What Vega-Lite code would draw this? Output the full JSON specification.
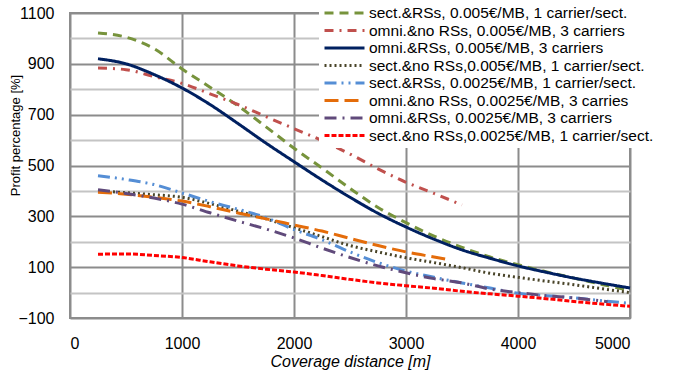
{
  "$schema": "https://vega.github.io/schema/vega-lite/v6.json",
  "width": 560,
  "height": 305,
  "autosize": {"type": "none"},
  "padding": {"left": 70, "top": 13, "right": 51, "bottom": 56},
  "background": "white",
  "config": {
    "font": "Liberation Sans",
    "view": {"stroke": "#8C8C8C", "strokeWidth": 2},
    "axis": {"labelFont": "Liberation Sans", "labelFontSize": 16, "labelColor": "#000", "ticks": false, "domain": false, "titleFont": "Liberation Sans", "titleColor": "#000", "titleFontWeight": "normal"},
    "legend": {"orient": "none", "legendX": 249, "legendY": -10, "fillColor": "white", "padding": 4, "rowPadding": 1.5, "clipHeight": 12, "labelFont": "Liberation Sans", "labelFontSize": 15.5, "labelColor": "#000", "labelOffset": 3, "labelLimit": 400, "symbolType": "stroke", "symbolSize": 1600, "symbolStrokeWidth": 3, "title": null}
  },
  "data": {"values": [
    {"s": "sect.&RSs, 0.005€/MB, 1 carrier/sect.", "x": 250, "y": 1021},
    {"s": "sect.&RSs, 0.005€/MB, 1 carrier/sect.", "x": 500, "y": 1005},
    {"s": "sect.&RSs, 0.005€/MB, 1 carrier/sect.", "x": 750, "y": 960},
    {"s": "sect.&RSs, 0.005€/MB, 1 carrier/sect.", "x": 1000, "y": 880},
    {"s": "sect.&RSs, 0.005€/MB, 1 carrier/sect.", "x": 1250, "y": 808},
    {"s": "sect.&RSs, 0.005€/MB, 1 carrier/sect.", "x": 1500, "y": 735},
    {"s": "sect.&RSs, 0.005€/MB, 1 carrier/sect.", "x": 1750, "y": 652},
    {"s": "sect.&RSs, 0.005€/MB, 1 carrier/sect.", "x": 2000, "y": 568},
    {"s": "sect.&RSs, 0.005€/MB, 1 carrier/sect.", "x": 2250, "y": 490},
    {"s": "sect.&RSs, 0.005€/MB, 1 carrier/sect.", "x": 2500, "y": 410},
    {"s": "sect.&RSs, 0.005€/MB, 1 carrier/sect.", "x": 2750, "y": 335},
    {"s": "sect.&RSs, 0.005€/MB, 1 carrier/sect.", "x": 3000, "y": 275},
    {"s": "sect.&RSs, 0.005€/MB, 1 carrier/sect.", "x": 3250, "y": 222},
    {"s": "sect.&RSs, 0.005€/MB, 1 carrier/sect.", "x": 3500, "y": 178},
    {"s": "sect.&RSs, 0.005€/MB, 1 carrier/sect.", "x": 3750, "y": 140},
    {"s": "sect.&RSs, 0.005€/MB, 1 carrier/sect.", "x": 4000, "y": 110},
    {"s": "sect.&RSs, 0.005€/MB, 1 carrier/sect.", "x": 4250, "y": 82},
    {"s": "sect.&RSs, 0.005€/MB, 1 carrier/sect.", "x": 4500, "y": 57},
    {"s": "sect.&RSs, 0.005€/MB, 1 carrier/sect.", "x": 4750, "y": 32},
    {"s": "sect.&RSs, 0.005€/MB, 1 carrier/sect.", "x": 5000, "y": 8},

    {"s": "omni.&no RSs, 0.005€/MB, 3 carriers", "x": 250, "y": 884},
    {"s": "omni.&no RSs, 0.005€/MB, 3 carriers", "x": 500, "y": 877},
    {"s": "omni.&no RSs, 0.005€/MB, 3 carriers", "x": 750, "y": 850},
    {"s": "omni.&no RSs, 0.005€/MB, 3 carriers", "x": 1000, "y": 823},
    {"s": "omni.&no RSs, 0.005€/MB, 3 carriers", "x": 1250, "y": 782},
    {"s": "omni.&no RSs, 0.005€/MB, 3 carriers", "x": 1500, "y": 740},
    {"s": "omni.&no RSs, 0.005€/MB, 3 carriers", "x": 1750, "y": 692},
    {"s": "omni.&no RSs, 0.005€/MB, 3 carriers", "x": 2000, "y": 645},
    {"s": "omni.&no RSs, 0.005€/MB, 3 carriers", "x": 2250, "y": 598},
    {"s": "omni.&no RSs, 0.005€/MB, 3 carriers", "x": 2500, "y": 545},
    {"s": "omni.&no RSs, 0.005€/MB, 3 carriers", "x": 2750, "y": 487},
    {"s": "omni.&no RSs, 0.005€/MB, 3 carriers", "x": 3000, "y": 434},
    {"s": "omni.&no RSs, 0.005€/MB, 3 carriers", "x": 3250, "y": 390},
    {"s": "omni.&no RSs, 0.005€/MB, 3 carriers", "x": 3500, "y": 345},

    {"s": "omni.&RSs, 0.005€/MB, 3 carriers", "x": 250, "y": 920},
    {"s": "omni.&RSs, 0.005€/MB, 3 carriers", "x": 500, "y": 900},
    {"s": "omni.&RSs, 0.005€/MB, 3 carriers", "x": 750, "y": 858},
    {"s": "omni.&RSs, 0.005€/MB, 3 carriers", "x": 1000, "y": 805},
    {"s": "omni.&RSs, 0.005€/MB, 3 carriers", "x": 1250, "y": 740},
    {"s": "omni.&RSs, 0.005€/MB, 3 carriers", "x": 1500, "y": 665},
    {"s": "omni.&RSs, 0.005€/MB, 3 carriers", "x": 1750, "y": 588},
    {"s": "omni.&RSs, 0.005€/MB, 3 carriers", "x": 2000, "y": 515},
    {"s": "omni.&RSs, 0.005€/MB, 3 carriers", "x": 2250, "y": 443},
    {"s": "omni.&RSs, 0.005€/MB, 3 carriers", "x": 2500, "y": 375},
    {"s": "omni.&RSs, 0.005€/MB, 3 carriers", "x": 2750, "y": 312},
    {"s": "omni.&RSs, 0.005€/MB, 3 carriers", "x": 3000, "y": 258},
    {"s": "omni.&RSs, 0.005€/MB, 3 carriers", "x": 3250, "y": 210},
    {"s": "omni.&RSs, 0.005€/MB, 3 carriers", "x": 3500, "y": 168},
    {"s": "omni.&RSs, 0.005€/MB, 3 carriers", "x": 3750, "y": 135},
    {"s": "omni.&RSs, 0.005€/MB, 3 carriers", "x": 4000, "y": 105},
    {"s": "omni.&RSs, 0.005€/MB, 3 carriers", "x": 4250, "y": 80},
    {"s": "omni.&RSs, 0.005€/MB, 3 carriers", "x": 4500, "y": 57},
    {"s": "omni.&RSs, 0.005€/MB, 3 carriers", "x": 4750, "y": 37},
    {"s": "omni.&RSs, 0.005€/MB, 3 carriers", "x": 5000, "y": 18},

    {"s": "sect.&no RSs,0.005€/MB, 1 carrier/sect.", "x": 250, "y": 400},
    {"s": "sect.&no RSs,0.005€/MB, 1 carrier/sect.", "x": 500, "y": 393},
    {"s": "sect.&no RSs,0.005€/MB, 1 carrier/sect.", "x": 750, "y": 385},
    {"s": "sect.&no RSs,0.005€/MB, 1 carrier/sect.", "x": 1000, "y": 375},
    {"s": "sect.&no RSs,0.005€/MB, 1 carrier/sect.", "x": 1250, "y": 350},
    {"s": "sect.&no RSs,0.005€/MB, 1 carrier/sect.", "x": 1500, "y": 320},
    {"s": "sect.&no RSs,0.005€/MB, 1 carrier/sect.", "x": 1750, "y": 290},
    {"s": "sect.&no RSs,0.005€/MB, 1 carrier/sect.", "x": 2000, "y": 255},
    {"s": "sect.&no RSs,0.005€/MB, 1 carrier/sect.", "x": 2250, "y": 220},
    {"s": "sect.&no RSs,0.005€/MB, 1 carrier/sect.", "x": 2500, "y": 185},
    {"s": "sect.&no RSs,0.005€/MB, 1 carrier/sect.", "x": 2750, "y": 160},
    {"s": "sect.&no RSs,0.005€/MB, 1 carrier/sect.", "x": 3000, "y": 137},
    {"s": "sect.&no RSs,0.005€/MB, 1 carrier/sect.", "x": 3250, "y": 118},
    {"s": "sect.&no RSs,0.005€/MB, 1 carrier/sect.", "x": 3500, "y": 98},
    {"s": "sect.&no RSs,0.005€/MB, 1 carrier/sect.", "x": 3750, "y": 76},
    {"s": "sect.&no RSs,0.005€/MB, 1 carrier/sect.", "x": 4000, "y": 60},
    {"s": "sect.&no RSs,0.005€/MB, 1 carrier/sect.", "x": 4250, "y": 45},
    {"s": "sect.&no RSs,0.005€/MB, 1 carrier/sect.", "x": 4500, "y": 31},
    {"s": "sect.&no RSs,0.005€/MB, 1 carrier/sect.", "x": 4750, "y": 15},
    {"s": "sect.&no RSs,0.005€/MB, 1 carrier/sect.", "x": 5000, "y": 0},

    {"s": "sect.&RSs, 0.0025€/MB, 1 carrier/sect.", "x": 250, "y": 460},
    {"s": "sect.&RSs, 0.0025€/MB, 1 carrier/sect.", "x": 500, "y": 445},
    {"s": "sect.&RSs, 0.0025€/MB, 1 carrier/sect.", "x": 750, "y": 425},
    {"s": "sect.&RSs, 0.0025€/MB, 1 carrier/sect.", "x": 1000, "y": 392},
    {"s": "sect.&RSs, 0.0025€/MB, 1 carrier/sect.", "x": 1250, "y": 358},
    {"s": "sect.&RSs, 0.0025€/MB, 1 carrier/sect.", "x": 1500, "y": 328},
    {"s": "sect.&RSs, 0.0025€/MB, 1 carrier/sect.", "x": 1750, "y": 295},
    {"s": "sect.&RSs, 0.0025€/MB, 1 carrier/sect.", "x": 2000, "y": 248},
    {"s": "sect.&RSs, 0.0025€/MB, 1 carrier/sect.", "x": 2250, "y": 208},
    {"s": "sect.&RSs, 0.0025€/MB, 1 carrier/sect.", "x": 2500, "y": 160},
    {"s": "sect.&RSs, 0.0025€/MB, 1 carrier/sect.", "x": 2750, "y": 118},
    {"s": "sect.&RSs, 0.0025€/MB, 1 carrier/sect.", "x": 3000, "y": 85},
    {"s": "sect.&RSs, 0.0025€/MB, 1 carrier/sect.", "x": 3250, "y": 60},
    {"s": "sect.&RSs, 0.0025€/MB, 1 carrier/sect.", "x": 3500, "y": 38},
    {"s": "sect.&RSs, 0.0025€/MB, 1 carrier/sect.", "x": 3750, "y": 18},
    {"s": "sect.&RSs, 0.0025€/MB, 1 carrier/sect.", "x": 4000, "y": -3},
    {"s": "sect.&RSs, 0.0025€/MB, 1 carrier/sect.", "x": 4250, "y": -12},
    {"s": "sect.&RSs, 0.0025€/MB, 1 carrier/sect.", "x": 4500, "y": -21},
    {"s": "sect.&RSs, 0.0025€/MB, 1 carrier/sect.", "x": 4750, "y": -32},
    {"s": "sect.&RSs, 0.0025€/MB, 1 carrier/sect.", "x": 5000, "y": -42},

    {"s": "omni.&no RSs, 0.0025€/MB, 3 carries", "x": 250, "y": 395},
    {"s": "omni.&no RSs, 0.0025€/MB, 3 carries", "x": 500, "y": 387},
    {"s": "omni.&no RSs, 0.0025€/MB, 3 carries", "x": 750, "y": 375},
    {"s": "omni.&no RSs, 0.0025€/MB, 3 carries", "x": 1000, "y": 360},
    {"s": "omni.&no RSs, 0.0025€/MB, 3 carries", "x": 1250, "y": 338},
    {"s": "omni.&no RSs, 0.0025€/MB, 3 carries", "x": 1500, "y": 313},
    {"s": "omni.&no RSs, 0.0025€/MB, 3 carries", "x": 1750, "y": 290},
    {"s": "omni.&no RSs, 0.0025€/MB, 3 carries", "x": 2000, "y": 266},
    {"s": "omni.&no RSs, 0.0025€/MB, 3 carries", "x": 2250, "y": 242},
    {"s": "omni.&no RSs, 0.0025€/MB, 3 carries", "x": 2500, "y": 213},
    {"s": "omni.&no RSs, 0.0025€/MB, 3 carries", "x": 2750, "y": 185},
    {"s": "omni.&no RSs, 0.0025€/MB, 3 carries", "x": 3000, "y": 160},
    {"s": "omni.&no RSs, 0.0025€/MB, 3 carries", "x": 3250, "y": 140},
    {"s": "omni.&no RSs, 0.0025€/MB, 3 carries", "x": 3400, "y": 128},

    {"s": "omni.&RSs, 0.0025€/MB, 3 carriers", "x": 250, "y": 405},
    {"s": "omni.&RSs, 0.0025€/MB, 3 carriers", "x": 500, "y": 390},
    {"s": "omni.&RSs, 0.0025€/MB, 3 carriers", "x": 750, "y": 372},
    {"s": "omni.&RSs, 0.0025€/MB, 3 carriers", "x": 1000, "y": 348},
    {"s": "omni.&RSs, 0.0025€/MB, 3 carriers", "x": 1250, "y": 314},
    {"s": "omni.&RSs, 0.0025€/MB, 3 carriers", "x": 1500, "y": 281},
    {"s": "omni.&RSs, 0.0025€/MB, 3 carriers", "x": 1750, "y": 250},
    {"s": "omni.&RSs, 0.0025€/MB, 3 carriers", "x": 2000, "y": 215},
    {"s": "omni.&RSs, 0.0025€/MB, 3 carriers", "x": 2250, "y": 175},
    {"s": "omni.&RSs, 0.0025€/MB, 3 carriers", "x": 2500, "y": 138},
    {"s": "omni.&RSs, 0.0025€/MB, 3 carriers", "x": 2750, "y": 105},
    {"s": "omni.&RSs, 0.0025€/MB, 3 carriers", "x": 3000, "y": 78},
    {"s": "omni.&RSs, 0.0025€/MB, 3 carriers", "x": 3250, "y": 55},
    {"s": "omni.&RSs, 0.0025€/MB, 3 carriers", "x": 3500, "y": 38},
    {"s": "omni.&RSs, 0.0025€/MB, 3 carriers", "x": 3750, "y": 14},
    {"s": "omni.&RSs, 0.0025€/MB, 3 carriers", "x": 4000, "y": 0},
    {"s": "omni.&RSs, 0.0025€/MB, 3 carriers", "x": 4250, "y": -12},
    {"s": "omni.&RSs, 0.0025€/MB, 3 carriers", "x": 4500, "y": -21},
    {"s": "omni.&RSs, 0.0025€/MB, 3 carriers", "x": 4800, "y": -36},

    {"s": "sect.&no RSs,0.0025€/MB, 1 carrier/sect.", "x": 250, "y": 151},
    {"s": "sect.&no RSs,0.0025€/MB, 1 carrier/sect.", "x": 500, "y": 152},
    {"s": "sect.&no RSs,0.0025€/MB, 1 carrier/sect.", "x": 750, "y": 146},
    {"s": "sect.&no RSs,0.0025€/MB, 1 carrier/sect.", "x": 1000, "y": 138},
    {"s": "sect.&no RSs,0.0025€/MB, 1 carrier/sect.", "x": 1250, "y": 121},
    {"s": "sect.&no RSs,0.0025€/MB, 1 carrier/sect.", "x": 1500, "y": 105},
    {"s": "sect.&no RSs,0.0025€/MB, 1 carrier/sect.", "x": 1750, "y": 92},
    {"s": "sect.&no RSs,0.0025€/MB, 1 carrier/sect.", "x": 2000, "y": 81},
    {"s": "sect.&no RSs,0.0025€/MB, 1 carrier/sect.", "x": 2250, "y": 67},
    {"s": "sect.&no RSs,0.0025€/MB, 1 carrier/sect.", "x": 2500, "y": 52},
    {"s": "sect.&no RSs,0.0025€/MB, 1 carrier/sect.", "x": 2750, "y": 38},
    {"s": "sect.&no RSs,0.0025€/MB, 1 carrier/sect.", "x": 3000, "y": 27},
    {"s": "sect.&no RSs,0.0025€/MB, 1 carrier/sect.", "x": 3250, "y": 17},
    {"s": "sect.&no RSs,0.0025€/MB, 1 carrier/sect.", "x": 3500, "y": 5},
    {"s": "sect.&no RSs,0.0025€/MB, 1 carrier/sect.", "x": 3750, "y": -5},
    {"s": "sect.&no RSs,0.0025€/MB, 1 carrier/sect.", "x": 4000, "y": -14},
    {"s": "sect.&no RSs,0.0025€/MB, 1 carrier/sect.", "x": 4250, "y": -24},
    {"s": "sect.&no RSs,0.0025€/MB, 1 carrier/sect.", "x": 4500, "y": -35},
    {"s": "sect.&no RSs,0.0025€/MB, 1 carrier/sect.", "x": 4750, "y": -45},
    {"s": "sect.&no RSs,0.0025€/MB, 1 carrier/sect.", "x": 5000, "y": -54}
  ]},
  "mark": {"type": "line", "strokeWidth": 3, "interpolate": "monotone"},
  "encoding": {
    "x": {"field": "x", "type": "quantitative", "scale": {"domain": [0, 5000], "nice": false},
      "axis": {"values": [0, 1000, 2000, 3000, 4000, 5000], "format": "d", "grid": true, "gridColor": "#8C8C8C", "gridWidth": 2, "labelPadding": 17, "title": "Coverage  distance [m]", "titleFontStyle": "italic", "titleFontSize": 16, "titlePadding": 2}},
    "y": {"field": "y", "type": "quantitative", "scale": {"domain": [-100, 1100], "nice": false, "zero": false},
      "axis": {"values": [-100, 0, 100, 200, 300, 400, 500, 600, 700, 800, 900, 1000, 1100], "format": "d", "grid": true,
        "gridColor": {"condition": {"test": "abs(datum.value) % 200 == 100", "value": "#8C8C8C"}, "value": "#C4C4C4"},
        "gridWidth": 2, "labelPadding": 16,
        "labelExpr": "abs(datum.value) % 200 == 100 ? datum.label : ''",
        "title": "Profit percentage [%]", "titleFontSize": 13, "titleX": -55, "titleY": 122, "titleAngle": -90, "titleAlign": "center", "titleBaseline": "middle"}},
    "color": {"field": "s", "type": "nominal", "title": null,
      "scale": {"domain": ["sect.&RSs, 0.005€/MB, 1 carrier/sect.", "omni.&no RSs, 0.005€/MB, 3 carriers", "omni.&RSs, 0.005€/MB, 3 carriers", "sect.&no RSs,0.005€/MB, 1 carrier/sect.", "sect.&RSs, 0.0025€/MB, 1 carrier/sect.", "omni.&no RSs, 0.0025€/MB, 3 carries", "omni.&RSs, 0.0025€/MB, 3 carriers", "sect.&no RSs,0.0025€/MB, 1 carrier/sect."],
        "range": ["#77933C", "#C0504D", "#002060", "#494429", "#558ED5", "#E46C0A", "#604A7B", "#FF0000"]}},
    "strokeDash": {"field": "s", "type": "nominal", "title": null,
      "scale": {"domain": ["sect.&RSs, 0.005€/MB, 1 carrier/sect.", "omni.&no RSs, 0.005€/MB, 3 carriers", "omni.&RSs, 0.005€/MB, 3 carriers", "sect.&no RSs,0.005€/MB, 1 carrier/sect.", "sect.&RSs, 0.0025€/MB, 1 carrier/sect.", "omni.&no RSs, 0.0025€/MB, 3 carries", "omni.&RSs, 0.0025€/MB, 3 carriers", "sect.&no RSs,0.0025€/MB, 1 carrier/sect."],
        "range": [[9, 6], [9, 6, 2, 6], [1, 0], [2, 3], [12, 5, 2, 5, 2, 5], [14, 6], [12, 6, 2, 6], [5, 2]]}}
  }
}
